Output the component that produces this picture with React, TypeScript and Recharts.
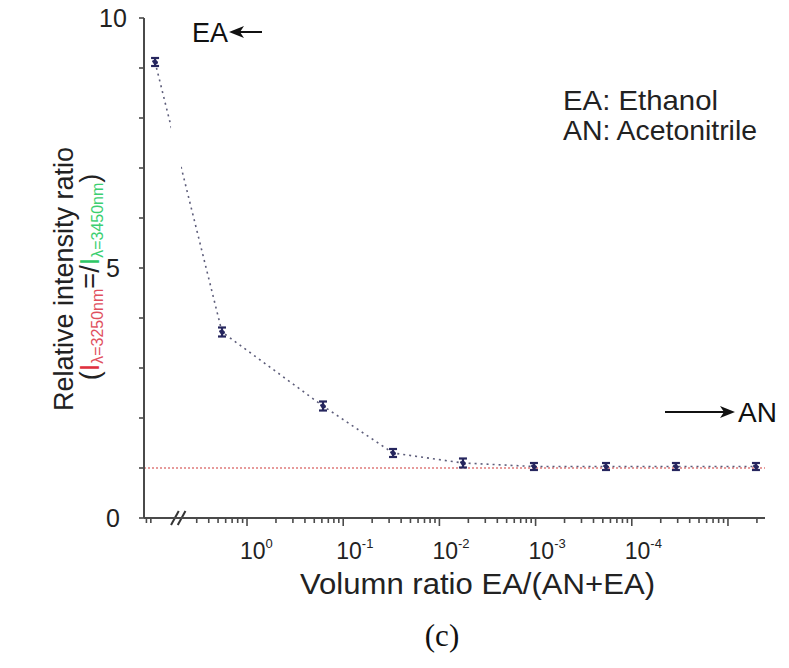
import React from 'react';
import { LineChart, Line, XAxis, YAxis, ErrorBar, ReferenceLine, ReferenceArea } from 'recharts';

// x is the position along the log axis in decades: 10^0 -> 0, 10^-1 -> 1, ...
const decadePos = [-0.956, -0.26, 0.79, 1.518, 2.245, 2.983, 3.732, 4.459, 5.291];
const intensityRatio = [9.12, 3.72, 2.24, 1.3, 1.1, 1.03, 1.03, 1.03, 1.03];
const ratioError = [0.08, 0.09, 0.09, 0.08, 0.09, 0.07, 0.07, 0.07, 0.07];

const xMajorTicks = [0, 1, 2, 3, 4, 5];
const xTickExponents = ['0', '-1', '-2', '-3', '-4'];
const yTicks = [0, 1, 2, 3, 4, 5, 6, 7, 8, 9, 10];
const yTickLabels = ['0', '5', '10'];

const X_MIN = -1.071;
const X_MAX = 5.385;
const BREAK_FROM = -0.8;
const BREAK_TO = -0.6;

const FONT = '"Liberation Sans", Arial, sans-serif';
const AXIS_COLOR = '#4a4a4a';

const data = decadePos.map((pos, i) => ({
  pos,
  ratio: intensityRatio[i],
  err: ratioError[i],
}));

// log-style minor ticks between the decades, skipping the axis break
const xTicks: number[] = [];
for (let d = -2; d <= 5; d++) {
  for (let m = 1; m <= 9; m++) {
    const v = d + Math.log10(m);
    if (v < X_MIN || v > X_MAX) continue;
    if (v > BREAK_FROM && v < BREAK_TO) continue;
    xTicks.push(v);
  }
}

const isMajor = (v: number) => xMajorTicks.some((t) => Math.abs(t - v) < 1e-6);

const XTick = ({ x, y, payload }: any) => {
  const v = payload.value;
  const major = isMajor(v);
  const idx = xMajorTicks.findIndex((t) => Math.abs(t - v) < 1e-6);
  return (
    <g>
      <line x1={x} x2={x} y1={y} y2={y + (major ? 8 : 5)} stroke={AXIS_COLOR} strokeWidth={1.6} />
      {major && idx < xTickExponents.length && (
        <text x={x - 7} y={y + 41} fontFamily={FONT} fontSize={23} fill="#222">
          10
          <tspan dy={-11} fontSize={13}>
            {xTickExponents[idx]}
          </tspan>
        </text>
      )}
    </g>
  );
};

const YTick = ({ x, y, payload }: any) => {
  const label = String(payload.value);
  return (
    <g>
      <line x1={x - 5} x2={x} y1={y} y2={y} stroke={AXIS_COLOR} strokeWidth={1.6} />
      {yTickLabels.includes(label) && (
        <text x={x - 31} y={y} dy="0.36em" textAnchor="middle" fontFamily={FONT} fontSize={25} fill="#222">
          {label}
        </text>
      )}
    </g>
  );
};

export default function App() {
  return (
    <div style={{ position: 'absolute', left: 0, top: 0, width: 789, height: 668, background: '#fff' }}>
      <LineChart
        width={789}
        height={668}
        data={data}
        margin={{ top: 18, right: 24, bottom: 110, left: 100 }}
      >
        <XAxis
          dataKey="pos"
          type="number"
          domain={[X_MIN, X_MAX]}
          ticks={xTicks}
          interval={0}
          tick={<XTick />}
          tickLine={false}
          tickSize={0}
          tickMargin={0}
          height={40}
          allowDataOverflow
          axisLine={{ stroke: AXIS_COLOR, strokeWidth: 2 }}
        />
        <YAxis
          type="number"
          domain={[0, 10]}
          ticks={yTicks}
          interval={0}
          tick={<YTick />}
          tickLine={false}
          tickSize={0}
          tickMargin={0}
          width={44}
          allowDataOverflow
          axisLine={{ stroke: AXIS_COLOR, strokeWidth: 2 }}
        />
        <ReferenceLine y={1} stroke="#e07b7b" strokeWidth={1.5} strokeDasharray="2 2" />
        <Line
          dataKey="ratio"
          stroke="#5d5d7a"
          strokeWidth={1.6}
          strokeDasharray="2 4"
          dot={{ r: 2.2, fill: '#26265e', stroke: '#26265e' }}
          isAnimationActive={false}
        >
          <ErrorBar dataKey="err" width={4} strokeWidth={2.2} stroke="#26265e" direction="y" isAnimationActive={false} />
        </Line>
        {/* gap in the dotted line at the axis break */}
        <ReferenceArea x1={-0.79} x2={-0.686} y1={6.95} y2={7.9} fill="#fff" fillOpacity={1} stroke="none" zIndex={2000} />
        <ReferenceLine
          segment={[{ x: -0.79, y: -0.14 }, { x: -0.71, y: 0.14 }]}
          stroke="#333"
          strokeWidth={2}
          ifOverflow="visible"
        />
        <ReferenceLine
          segment={[{ x: -0.72, y: -0.14 }, { x: -0.64, y: 0.14 }]}
          stroke="#333"
          strokeWidth={2}
          ifOverflow="visible"
        />
      </LineChart>

      <svg
        width={789}
        height={668}
        style={{ position: 'absolute', left: 0, top: 0, pointerEvents: 'none' }}
        fontFamily={FONT}
      >
        {/* y axis title */}
        <text transform="translate(73,279) rotate(-90)" textAnchor="middle" fontSize={27} fill="#222">
          Relative intensity ratio
        </text>
        <text transform="translate(99,277) rotate(-90)" textAnchor="middle" fontSize={27} fill="#222">
          (<tspan fill="#e0303e">I</tspan>
          <tspan dy={4} fontSize={16} fill="#e0505e">λ=3250nm</tspan>
          <tspan dy={-4}>=/</tspan>
          <tspan fill="#2ec866">I</tspan>
          <tspan dy={4} fontSize={16} fill="#3ccf70">λ=3450nm</tspan>
          <tspan dy={-4}>)</tspan>
        </text>

        {/* x axis title and panel label */}
        <text x={300} y={594} fontSize={29} textLength={355} lengthAdjust="spacingAndGlyphs" fill="#222">
          Volumn ratio EA/(AN+EA)
        </text>
        <text x={442} y={646} textAnchor="middle" fontFamily='"Liberation Serif", "Times New Roman", serif' fontSize={31} fill="#111">
          (c)
        </text>

        {/* legend notes */}
        <text x={563} y={110} fontSize={28} textLength={155} lengthAdjust="spacingAndGlyphs" fill="#222">
          EA: Ethanol
        </text>
        <text x={563} y={140} fontSize={28} textLength={194} lengthAdjust="spacingAndGlyphs" fill="#222">
          AN: Acetonitrile
        </text>

        {/* EA arrow */}
        <text x={192} y={42} fontSize={27} fill="#111">EA</text>
        <line x1={238} y1={32} x2={262} y2={32} stroke="#111" strokeWidth={2} />
        <polygon points="229,32 244,26 240,32 244,38" fill="#111" />

        {/* AN arrow */}
        <line x1={665} y1={412} x2={725} y2={412} stroke="#111" strokeWidth={2} />
        <polygon points="735,412 720,406 724,412 720,418" fill="#111" />
        <text x={738} y={422} fontSize={28} fill="#111">AN</text>
      </svg>
    </div>
  );
}
